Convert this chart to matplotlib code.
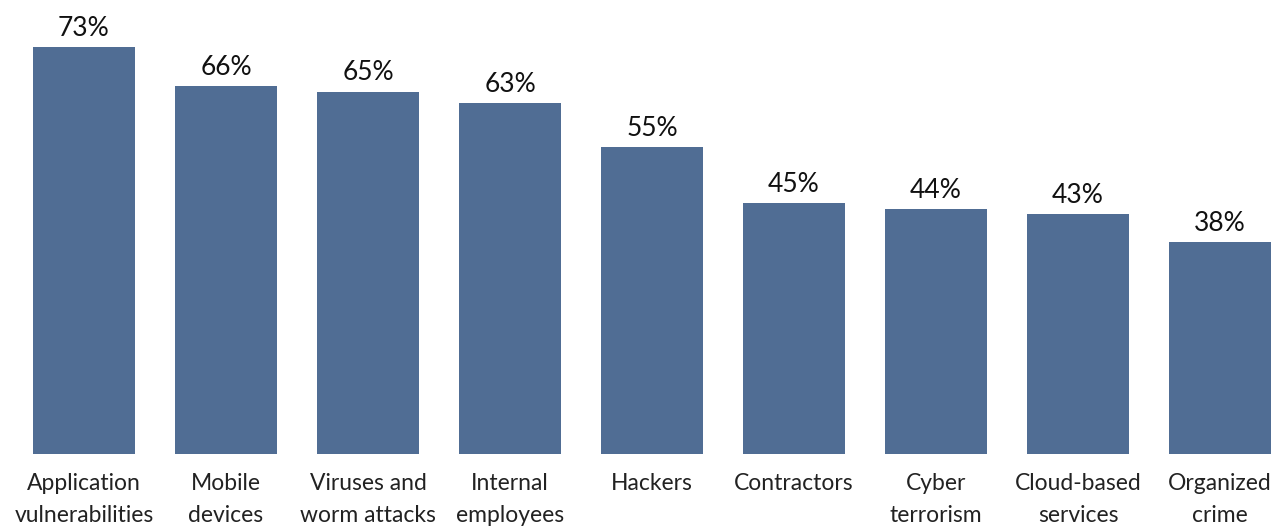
import matplotlib

matplotlib.use("Agg")
import matplotlib.pyplot as plt

CATEGORIES = [
    "Application\nvulnerabilities",
    "Mobile\ndevices",
    "Viruses and\nworm attacks",
    "Internal\nemployees",
    "Hackers",
    "Contractors",
    "Cyber\nterrorism",
    "Cloud-based\nservices",
    "Organized\ncrime",
]
PERCENTAGES = [73, 66, 65, 63, 55, 45, 44, 43, 38]

BAR_COLOR = "#506d94"

plt.rcParams["font.family"] = ["Lato", "DejaVu Sans"]

fig = plt.figure(figsize=(12.8, 5.26), dpi=100)
ax = fig.add_axes([0, 72 / 526, 1, 1 - 72 / 526])

positions = list(range(len(CATEGORIES)))
bars = ax.bar(positions, PERCENTAGES, width=0.725, color=BAR_COLOR)

for bar, value in zip(bars, PERCENTAGES):
    ax.text(
        bar.get_x() + bar.get_width() / 2,
        value + 1.1,
        f"{value}%",
        ha="center",
        va="bottom",
        fontsize=19,
        color="#111111",
    )

ax.set_xlim(-84 / 142, (1280 - 84) / 142)
ax.set_ylim(0, 454 / 5.575)
ax.set_xticks(positions)
ax.set_xticklabels(CATEGORIES, fontsize=16.5, color="#222222", linespacing=1.6)
ax.tick_params(axis="x", length=0, pad=14)
ax.set_yticks([])
for spine in ax.spines.values():
    spine.set_visible(False)

fig.savefig("out.png", dpi=100)
